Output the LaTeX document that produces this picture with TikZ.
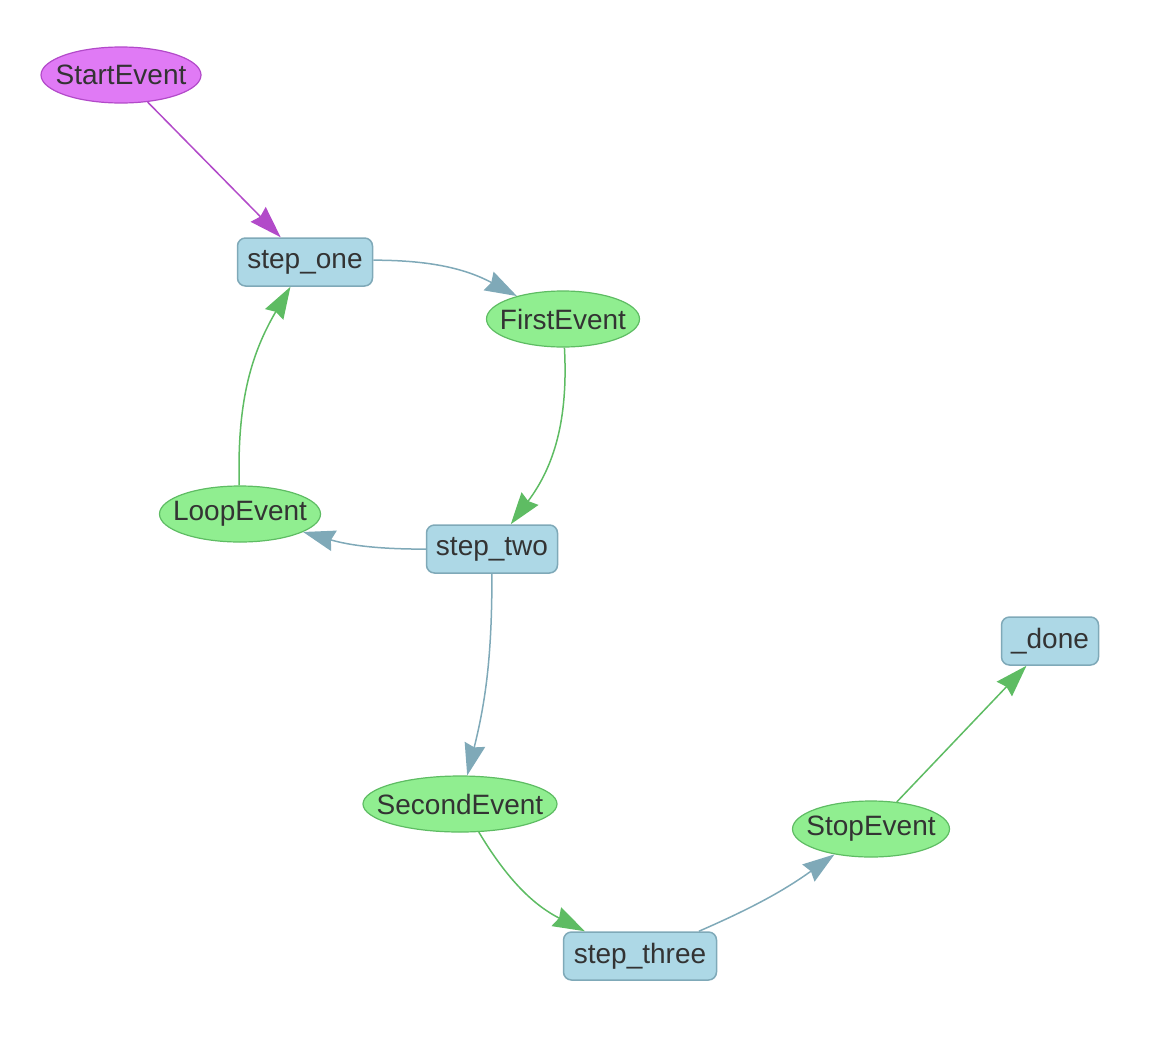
\documentclass[tikz,border=0pt]{standalone}
\usepackage{fontspec}
\setmainfont{Liberation Sans}
\usetikzlibrary{positioning, arrows.meta, shapes.geometric}

\definecolor{stepfill}{HTML}{ADD8E6}
\definecolor{stepline}{HTML}{7FA9B8}
\definecolor{evtfill}{HTML}{90EE90}
\definecolor{evtline}{HTML}{5EBC63}
\definecolor{startfill}{HTML}{E07AF5}
\definecolor{startline}{HTML}{B24AC9}
\definecolor{txtgray}{HTML}{333333}

\newcommand{\evtname}[1]{\makebox[0pt]{#1}}

\begin{document}
\begin{tikzpicture}[
    x=0.5pt, y=-0.5pt,
    stepbox/.style={rectangle, draw=stepline, fill=stepfill, line width=0.75pt, rounded corners=4pt, minimum height=24pt, inner sep=0pt, text=txtgray, font=\fontsize{14}{16}\selectfont},
    evt/.style={ellipse, draw=evtline, fill=evtfill, line width=0.6pt, minimum height=28pt, inner sep=0pt, text=txtgray, font=\fontsize{14}{16}\selectfont},
    startevt/.style={evt, draw=startline, fill=startfill},
    flow/.style={-{Stealth[length=16pt, width=10.5pt, inset=1.5pt]}, line width=0.75pt},
    stepflow/.style={flow, draw=stepline},
    evtflow/.style={flow, draw=evtline},
    startflow/.style={flow, draw=startline}
]
\useasboundingbox (0,0) rectangle (1176,1060);

\node[startevt, minimum width=80pt] (start) at (121,75) {\evtname{StartEvent}};
\node[stepbox, minimum width=67.5pt] (step_one) at (305,262) {step\_one};
\node[evt, minimum width=76.5pt] (first) at (563,319) {\evtname{FirstEvent}};
\node[evt, minimum width=80.5pt] (loop) at (240,514) {\evtname{LoopEvent}};
\node[stepbox, minimum width=65.5pt] (step_two) at (492,549) {step\_two};
\node[evt, minimum width=97pt] (second) at (460,804) {\evtname{SecondEvent}};
\node[stepbox, minimum width=76.5pt] (step_three) at (640,956) {step\_three};
\node[evt, minimum width=78.5pt] (stop) at (871,829) {\evtname{StopEvent}};
\node[stepbox, minimum width=48.5pt] (done) at (1050,641) {\_done};

\draw[startflow] (start) -- (step_one);
\draw[stepflow] (step_one) to[bend left=14] (first);
\draw[evtflow] (first) to[bend left=20] (step_two);
\draw[stepflow] (step_two) to[bend left=8] (loop);
\draw[evtflow] (loop) to[bend left=16] (step_one);
\draw[stepflow] (step_two) to[bend left=7] (second);
\draw[evtflow] (second) to[bend right=16] (step_three);
\draw[stepflow] (step_three) to[bend right=6] (stop);
\draw[evtflow] (stop) -- (done);
\end{tikzpicture}
\end{document}
